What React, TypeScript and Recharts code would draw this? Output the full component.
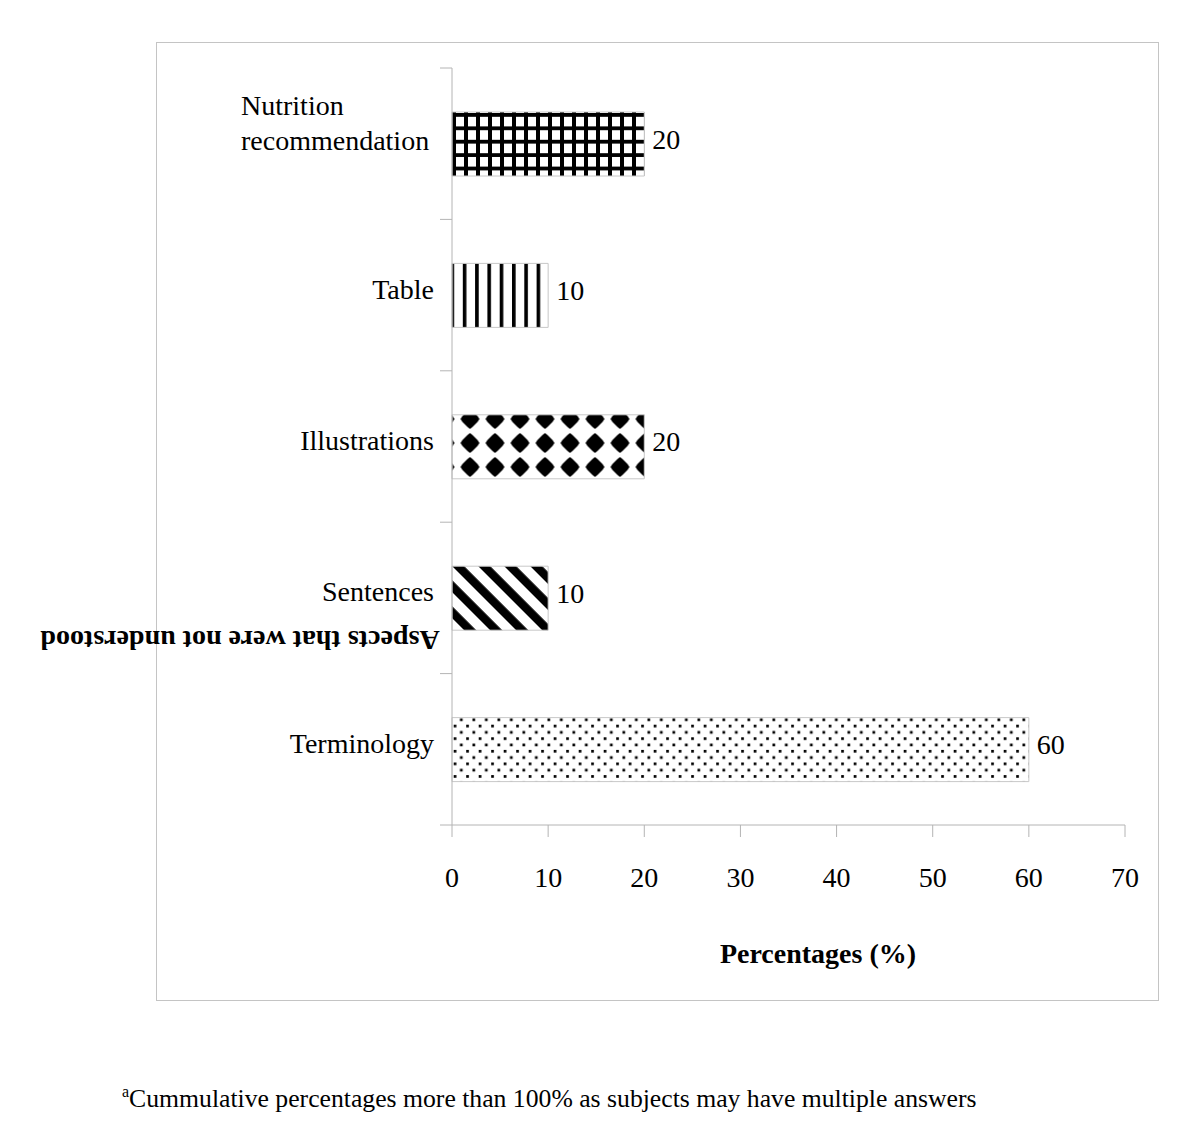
import { BarChart, Bar, XAxis, YAxis, Cell, LabelList } from "recharts";

const categories = [
  "Nutrition recommendation",
  "Table",
  "Illustrations",
  "Sentences",
  "Terminology",
];
const percentages = [20, 10, 20, 10, 60];
const xTicks = [0, 10, 20, 30, 40, 50, 60, 70];
const fills = ["grid", "vstripes", "diamonds", "diagonal", "dots"];

const data = categories.map((name, i) => ({
  name,
  value: percentages[i],
  fill: fills[i],
}));

const W = 1200;
const H = 1135;
const PLOT_LEFT = 452;
const PLOT_RIGHT = 1125;
const PLOT_TOP = 68;
const PLOT_BOTTOM = 825;
const X_AXIS_H = 70;
const BAND = (PLOT_BOTTOM - PLOT_TOP) / categories.length;
const FONT = "'Liberation Serif', 'Times New Roman', serif";
const AXIS = "#b4b4b4";

function CategoryTick(props: any) {
  const { y, payload, index } = props;
  const top = y - BAND / 2;
  const lines = String(payload.value).split(" ");
  const isLast = index === categories.length - 1;
  return (
    <g>
      <line x1={PLOT_LEFT - 12} x2={PLOT_LEFT} y1={top} y2={top} stroke={AXIS} />
      {isLast && (
        <line
          x1={PLOT_LEFT - 12}
          x2={PLOT_LEFT}
          y1={top + BAND}
          y2={top + BAND}
          stroke={AXIS}
        />
      )}
      {lines.length > 1 && payload.value === "Nutrition recommendation" ? (
        <text fontFamily={FONT} fontSize={28} fill="#000" textAnchor="start">
          <tspan x={241} y={y - 29}>
            {lines[0]}
          </tspan>
          <tspan x={241} y={y + 6}>
            {lines[1]}
          </tspan>
        </text>
      ) : (
        <text
          x={PLOT_LEFT - 18}
          y={y - 6}
          fontFamily={FONT}
          fontSize={28}
          fill="#000"
          textAnchor="end"
          dominantBaseline="central"
        >
          {payload.value}
        </text>
      )}
    </g>
  );
}

function ValueLabel(props: any) {
  const { x, y, width, height, value } = props;
  return (
    <text
      x={x + width + 8}
      y={y + height / 2 - 5}
      fontFamily={FONT}
      fontSize={28}
      fill="#000"
      dominantBaseline="central"
    >
      {value}
    </text>
  );
}

export default function App() {
  return (
    <div
      style={{
        position: "absolute",
        left: 0,
        top: 0,
        width: W,
        height: H,
        background: "#fff",
      }}
    >
      <div
        style={{
          position: "absolute",
          left: 156,
          top: 42,
          width: 1001,
          height: 957,
          border: "1px solid #c4c4c4",
        }}
      />
      <svg
        width={W}
        height={H}
        style={{ position: "absolute", left: 0, top: 0, pointerEvents: "none" }}
      >
        <defs>
          <pattern id="grid" patternUnits="userSpaceOnUse" x={452} y={113} width={12} height={13.4}>
            <rect width={12} height={13.4} fill="#fff" />
            <rect x={0} y={0} width={4} height={13.4} fill="#000" />
            <rect x={0} y={0} width={12} height={3.8} fill="#000" />
          </pattern>
          <pattern id="vstripes" patternUnits="userSpaceOnUse" x={450.5} y={0} width={12.3} height={20}>
            <rect width={12.3} height={20} fill="#fff" />
            <rect x={0} y={0} width={3.6} height={20} fill="#000" />
          </pattern>
          <pattern id="diamonds" patternUnits="userSpaceOnUse" x={457.5} y={407} width={25} height={24}>
            <rect width={25} height={24} fill="#fff" />
            <polygon
              points="12.5,2 15,4 17,6 20,9 22,12 20,15 17,18 15,20 12.5,22 10,20 8,18 5,15 3,12 5,9 8,6 10,4"
              fill="#000"
            />
          </pattern>
          <pattern
            id="diagonal"
            patternUnits="userSpaceOnUse"
            x={452}
            y={566}
            width={18.4}
            height={18.4}
            patternTransform="rotate(-45 452 566)"
          >
            <rect width={18.4} height={18.4} fill="#fff" />
            <rect x={0} y={0} width={8.5} height={18.4} fill="#000" />
          </pattern>
          <pattern id="dots" patternUnits="userSpaceOnUse" x={453.7} y={724.7} width={12.5} height={12.6}>
            <rect width={12.5} height={12.6} fill="#fff" />
            <rect x={0} y={0} width={2.7} height={2.7} fill="#000" />
            <rect x={6.25} y={6.3} width={2.7} height={2.7} fill="#000" />
          </pattern>
        </defs>
        <text
          x={240}
          y={640}
          fontFamily={FONT}
          fontSize={28}
          fontWeight="bold"
          textAnchor="middle"
          dominantBaseline="central"
          transform="rotate(180 240 640)"
        >
          Aspects that were not understood
        </text>
        <text
          x={818}
          y={963}
          fontFamily={FONT}
          fontSize={28}
          fontWeight="bold"
          textAnchor="middle"
        >
          Percentages (%)
        </text>
        <text x={122} y={1107} fontFamily={FONT} fontSize={25.7}>
          <tspan fontSize={16} dy={-10}>
            a
          </tspan>
          <tspan dy={10}>
            Cummulative percentages more than 100% as subjects may have multiple answers
          </tspan>
        </text>
      </svg>
      <div style={{ position: "absolute", left: 0, top: 0 }}>
        <BarChart
          width={W}
          height={H}
          data={data}
          layout="vertical"
          margin={{
            top: PLOT_TOP,
            right: W - PLOT_RIGHT,
            bottom: H - PLOT_BOTTOM - X_AXIS_H,
            left: 0,
          }}
        >
          <XAxis
            type="number"
            domain={[0, 70]}
            ticks={xTicks}
            interval={0}
            height={X_AXIS_H}
            axisLine={{ stroke: AXIS }}
            tickLine={{ stroke: AXIS }}
            tickSize={12}
            tickMargin={30}
            tick={{ fill: "#000", fontSize: 28, fontFamily: FONT }}
          />
          <YAxis
            type="category"
            dataKey="name"
            width={PLOT_LEFT}
            axisLine={{ stroke: AXIS }}
            tickLine={false}
            tick={<CategoryTick />}
            interval={0}
          />
          <Bar
            dataKey="value"
            barSize={64}
            stroke="#c8c8c8"
            strokeWidth={1}
            isAnimationActive={false}
          >
            {data.map((d) => (
              <Cell key={d.name} fill={`url(#${d.fill})`} />
            ))}
            <LabelList dataKey="value" content={<ValueLabel />} />
          </Bar>
        </BarChart>
      </div>
    </div>
  );
}
